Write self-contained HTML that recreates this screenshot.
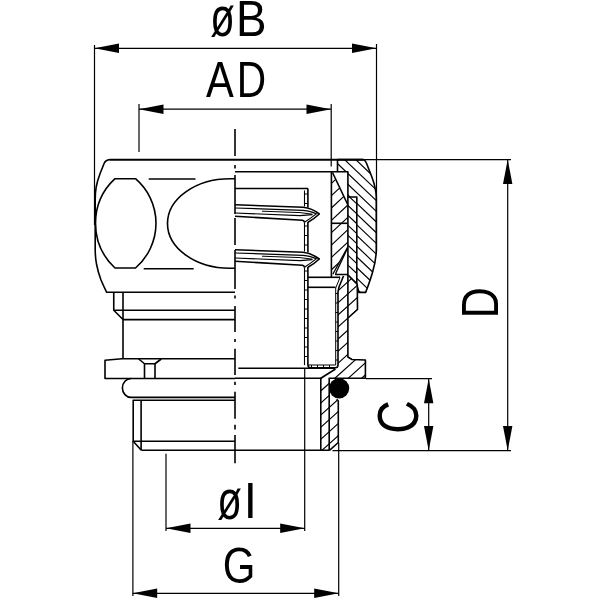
<!DOCTYPE html>
<html><head><meta charset="utf-8"><title>Drawing</title>
<style>
html,body{margin:0;padding:0;background:#fff;}
svg{display:block;will-change:transform;opacity:0.999;}
text{font-family:"Liberation Sans",sans-serif;}
</style></head><body>
<svg width="600" height="600" viewBox="0 0 600 600" stroke="#000" fill="none" stroke-linecap="butt" stroke-linejoin="round">
<rect x="0" y="0" width="600" height="600" fill="#fff" stroke="none"/>
<defs><clipPath id="cnut"><path d="M337.5,159.5 L363,159.5 L366.3,162.8 L371.5,176 L375.3,189 L376.3,197 L376.5,252 L375,262 L372.3,273.3 L367.7,287 L365.5,292.5 L358.8,292.5 L357.4,287.3 L356.8,284 L356.8,197 L347.9,197 L347.9,171.7 L337.5,171.7 Z"/></clipPath><clipPath id="cstrip"><path d="M347.9,197 L356.8,197 L356.8,284 L348.3,275.3 Z"/></clipPath><clipPath id="cfer"><path d="M331.4,172 L332.5,172.3 L347.7,204.5 L347.7,247.3 L332.8,274 L332.8,277 L331.4,277 Z"/></clipPath><clipPath id="cbody"><path d="M343.5,276 L348.3,275.3 L357.3,284.5 L357.6,309.5 L348,318 L348,357 L352,359.5 L365.4,360 L365.4,378.3 L329.2,378.3 L329.2,398 L336.7,399.5 L338.3,401 L338.3,442.5 L329.5,450.3 L320.8,450.3 L320.8,378.3 L335.5,369 L338,367 L338,292 L339,287 Z"/></clipPath></defs>
<line x1="94.5" y1="48.3" x2="376.5" y2="48.3" stroke-width="1.2" />
<polygon points="94.5,48.3 119.0,43.599999999999994 119.0,53.0" fill="#000" stroke="none"/>
<polygon points="376.5,48.3 352.0,53.0 352.0,43.599999999999994" fill="#000" stroke="none"/>
<line x1="94.5" y1="45" x2="94.5" y2="225" stroke-width="1.2" />
<line x1="376.5" y1="44" x2="376.5" y2="252" stroke-width="1.2" />
<line x1="139" y1="109.2" x2="331" y2="109.2" stroke-width="1.2" />
<polygon points="139,109.2 163.5,104.5 163.5,113.9" fill="#000" stroke="none"/>
<polygon points="331,109.2 306.5,113.9 306.5,104.5" fill="#000" stroke="none"/>
<line x1="139" y1="104" x2="139" y2="152" stroke-width="1.2" />
<line x1="331.2" y1="104" x2="331.2" y2="166.5" stroke-width="1.2" />
<line x1="507.7" y1="159.5" x2="507.7" y2="450.5" stroke-width="1.2" />
<polygon points="507.7,159.5 512.4,184.0 503.0,184.0" fill="#000" stroke="none"/>
<polygon points="507.7,450.5 503.0,426.0 512.4,426.0" fill="#000" stroke="none"/>
<line x1="363" y1="159.6" x2="511" y2="159.6" stroke-width="1.2" />
<line x1="332.5" y1="450.6" x2="511" y2="450.6" stroke-width="1.2" />
<line x1="428.7" y1="378.7" x2="428.7" y2="450.5" stroke-width="1.2" />
<polygon points="428.7,378.7 433.4,403.2 424.0,403.2" fill="#000" stroke="none"/>
<polygon points="428.7,450.5 424.0,426.0 433.4,426.0" fill="#000" stroke="none"/>
<line x1="366" y1="378.7" x2="432" y2="378.7" stroke-width="1.2" />
<line x1="166" y1="528.3" x2="304.7" y2="528.3" stroke-width="1.2" />
<polygon points="166,528.3 190.5,523.5999999999999 190.5,533.0" fill="#000" stroke="none"/>
<polygon points="304.7,528.3 280.2,533.0 280.2,523.5999999999999" fill="#000" stroke="none"/>
<line x1="166" y1="453.7" x2="166" y2="531" stroke-width="1.2" />
<line x1="304.7" y1="369" x2="304.7" y2="531" stroke-width="1.2" />
<line x1="132.7" y1="593.3" x2="338.7" y2="593.3" stroke-width="1.2" />
<polygon points="132.7,593.3 157.2,588.5999999999999 157.2,598.0" fill="#000" stroke="none"/>
<polygon points="338.7,593.3 314.2,598.0 314.2,588.5999999999999" fill="#000" stroke="none"/>
<line x1="132.9" y1="441" x2="132.9" y2="596" stroke-width="1.2" />
<line x1="338.7" y1="443" x2="338.7" y2="596" stroke-width="1.2" />
<line x1="235" y1="129" x2="235" y2="156" stroke-width="1.6" />
<line x1="235" y1="165" x2="235" y2="168.5" stroke-width="1.6" />
<line x1="235" y1="175" x2="235" y2="214" stroke-width="1.6" />
<line x1="235" y1="218" x2="235" y2="245" stroke-width="1.6" />
<line x1="235" y1="250" x2="235" y2="289" stroke-width="1.6" />
<line x1="235" y1="295.5" x2="235" y2="298.5" stroke-width="1.6" />
<line x1="235" y1="306" x2="235" y2="332" stroke-width="1.6" />
<line x1="235" y1="339" x2="235" y2="342" stroke-width="1.6" />
<line x1="235" y1="348.7" x2="235" y2="375" stroke-width="1.6" />
<line x1="235" y1="381.7" x2="235" y2="385" stroke-width="1.6" />
<line x1="235" y1="391.7" x2="235" y2="418.7" stroke-width="1.6" />
<line x1="235" y1="424.7" x2="235" y2="429.5" stroke-width="1.6" />
<line x1="235" y1="435" x2="235" y2="463.3" stroke-width="1.6" />
<line x1="110" y1="159.8" x2="363.3" y2="159.8" stroke-width="1.9" />
<path d="M110,159.6 Q105.5,160 104.2,163.3 L100,173.75 Q97.3,181 96.2,187 Q95.2,192 95.2,200 L95.2,250 Q95.3,258 96.5,264 Q98,272 101,280 Q104,287 106.7,292.3 L235,292.3" stroke-width="1.6" fill="none" />
<path d="M115,178.7 L135.5,178.7 A58.9,58.9 0 0 1 135.5,268 L115,268 A60.9,60.9 0 0 1 115,178.7 Z" stroke-width="1.6" fill="none" />
<line x1="148.7" y1="179" x2="195.5" y2="179" stroke-width="1.6" />
<line x1="143.7" y1="268.7" x2="193.7" y2="268.7" stroke-width="1.6" />
<path d="M235,178.8 L230,178.8 A62.5,44.7 0 0 0 230,268.2 L235,268.2" stroke-width="1.6" fill="none" />
<path d="M113.75,292.5 L113.75,310.3 L123,319.5" stroke-width="1.6" fill="none" />
<line x1="123" y1="292.5" x2="123" y2="358.5" stroke-width="1.6" />
<line x1="113.75" y1="310.3" x2="235" y2="310.3" stroke-width="1.6" />
<line x1="123" y1="319.6" x2="235" y2="319.6" stroke-width="1.6" />
<path d="M235,358.7 L122,358.7 L105,360.2 L105,378.5 L235,378.5" stroke-width="1.6" fill="none" />
<path d="M138.7,359 L144.5,363.75 L155,363.75 L161.2,359" stroke-width="1.6" fill="none" />
<line x1="144.5" y1="363.75" x2="144.5" y2="378.5" stroke-width="1.6" />
<line x1="155" y1="363.75" x2="155" y2="378.5" stroke-width="1.6" />
<path d="M131,378.5 A8.6,9.45 0 0 0 131,397.4 L235,397.4" stroke-width="1.6" fill="none" />
<path d="M235,400.2 L133.2,400.2 L133.2,441.2 L141.3,450.3" stroke-width="1.6" fill="none" />
<line x1="141.1" y1="400.2" x2="141.1" y2="449.8" stroke-width="1.6" />
<line x1="133.2" y1="441.2" x2="235" y2="441.2" stroke-width="1.6" />
<line x1="141.3" y1="450.3" x2="329.5" y2="450.3" stroke-width="1.6" />
<path d="M335.50,97.52 L378.50,138.46 M335.50,108.22 L378.50,149.16 M335.50,118.92 L378.50,159.86 M335.50,129.62 L378.50,170.56 M335.50,140.32 L378.50,181.26 M335.50,151.02 L378.50,191.96 M335.50,161.72 L378.50,202.66 M335.50,172.42 L378.50,213.36 M335.50,183.12 L378.50,224.06 M335.50,193.82 L378.50,234.76 M335.50,204.52 L378.50,245.46 M335.50,215.22 L378.50,256.16 M335.50,225.92 L378.50,266.86 M335.50,236.62 L378.50,277.56 M335.50,247.32 L378.50,288.26 M335.50,258.02 L378.50,298.96 M335.50,268.72 L378.50,309.66 M335.50,279.42 L378.50,320.36 M335.50,290.12 L378.50,331.06 M335.50,300.82 L378.50,341.76 M335.50,311.52 L378.50,352.46 M335.50,322.22 L378.50,363.16 M335.50,332.92 L378.50,373.86 M335.50,343.62 L378.50,384.56" stroke-width="1.15" fill="none" clip-path="url(#cnut)"/>
<path d="M345.90,163.78 L358.80,175.80 M345.90,173.73 L358.80,185.75 M345.90,183.68 L358.80,195.70 M345.90,193.63 L358.80,205.65 M345.90,203.58 L358.80,215.60 M345.90,213.53 L358.80,225.55 M345.90,223.48 L358.80,235.50 M345.90,233.43 L358.80,245.45 M345.90,243.38 L358.80,255.40 M345.90,253.33 L358.80,265.35 M345.90,263.28 L358.80,275.30 M345.90,273.23 L358.80,285.25 M345.90,283.18 L358.80,295.20 M345.90,293.13 L358.80,305.15 M345.90,303.08 L358.80,315.10" stroke-width="1.15" fill="none" clip-path="url(#cstrip)"/>
<path d="M337.5,159.6 L363,159.6 Q365.5,160.5 366.3,162.8 L371.5,176 Q374.3,183 375.3,189 Q376.2,193 376.3,197 L376.3,250 C376.2,258 374.5,266 372.3,273.3 C370.5,279 369,283.5 367.7,287 L365.6,292.4 L358.8,292.4 L357.6,287.3" stroke-width="1.6" fill="none" />
<path d="M337.5,159.5 L337.5,171.8 L347.9,171.8 L347.9,276" stroke-width="1.6" fill="none" />
<path d="M347.9,197 L356.8,197 L356.8,284" stroke-width="1.6" fill="none" />
<line x1="235" y1="171.8" x2="337.5" y2="171.8" stroke-width="1.6" />
<path d="M329.40,135.77 L349.70,116.83 M329.40,148.12 L349.70,129.18 M329.40,160.47 L349.70,141.53 M329.40,172.82 L349.70,153.88 M329.40,185.17 L349.70,166.23 M329.40,197.52 L349.70,178.58 M329.40,209.87 L349.70,190.93 M329.40,222.22 L349.70,203.28 M329.40,234.57 L349.70,215.63 M329.40,246.92 L349.70,227.98 M329.40,259.27 L349.70,240.33 M329.40,271.62 L349.70,252.68 M329.40,283.97 L349.70,265.03 M329.40,296.32 L349.70,277.38 M329.40,308.67 L349.70,289.73" stroke-width="1.15" fill="none" clip-path="url(#cfer)"/>
<path d="M331.4,172 L331.4,277" stroke-width="1.6" fill="none" />
<path d="M332.5,172.5 L347.7,204.5" stroke-width="1.6" fill="none" />
<line x1="331.4" y1="223.3" x2="347.7" y2="223.3" stroke-width="1.6" />
<path d="M347.6,247.3 L332.8,274.2" stroke-width="1.3" fill="none" />
<path d="M347.6,248 L336,272.8 L335.6,274.5 L347.7,274.5" stroke-width="1.3" fill="none" />
<path d="M318.80,211.19 L367.40,167.43 M318.80,223.29 L367.40,179.53 M318.80,235.39 L367.40,191.63 M318.80,247.49 L367.40,203.73 M318.80,259.59 L367.40,215.83 M318.80,271.69 L367.40,227.93 M318.80,283.79 L367.40,240.03 M318.80,295.89 L367.40,252.13 M318.80,307.99 L367.40,264.23 M318.80,320.09 L367.40,276.33 M318.80,332.19 L367.40,288.43 M318.80,344.29 L367.40,300.53 M318.80,356.39 L367.40,312.63 M318.80,368.49 L367.40,324.73 M318.80,380.59 L367.40,336.83 M318.80,392.69 L367.40,348.93 M318.80,404.79 L367.40,361.03 M318.80,416.89 L367.40,373.13 M318.80,428.99 L367.40,385.23 M318.80,441.09 L367.40,397.33 M318.80,453.19 L367.40,409.43 M318.80,465.29 L367.40,421.53 M318.80,477.39 L367.40,433.63 M318.80,489.49 L367.40,445.73 M318.80,501.59 L367.40,457.83" stroke-width="1.15" fill="none" clip-path="url(#cbody)"/>
<path d="M348.3,275.3 L357.3,284.5 L357.5,309.5 L348,318" stroke-width="1.6" fill="none" />
<path d="M347.9,276 L347.9,357 L352,359.5 L365.4,360 L365.4,378.3 L329.2,378.3 L329.2,450.3" stroke-width="1.6" fill="none" />
<path d="M336.7,399.3 L338.3,401 L338.3,442.5 L329.5,450.3" stroke-width="1.6" fill="none" />
<path d="M320.8,450.3 L320.8,378.3 L335.5,369" stroke-width="1.6" fill="none" />
<line x1="235" y1="378.2" x2="320.8" y2="378.2" stroke-width="1.6" />
<circle cx="339.1" cy="388.3" r="10.1" fill="#000" stroke="none"/>
<line x1="235" y1="188.5" x2="308" y2="188.5" stroke-width="1.6" />
<line x1="307.9" y1="188.5" x2="307.9" y2="207.5" stroke-width="1.6" />
<line x1="307.9" y1="222" x2="307.9" y2="252.5" stroke-width="1.6" />
<line x1="307.9" y1="267" x2="307.9" y2="365" stroke-width="1.6" />
<line x1="304.5" y1="190.5" x2="304.5" y2="206.5" stroke-width="1.1" />
<line x1="306.2" y1="193.5" x2="306.2" y2="206.5" stroke-width="3" stroke-dasharray="1 8.5"/>
<line x1="304.5" y1="222.5" x2="304.5" y2="251.5" stroke-width="1.1" />
<line x1="306.2" y1="225.5" x2="306.2" y2="251.5" stroke-width="3" stroke-dasharray="1 8.5"/>
<line x1="304.5" y1="267.5" x2="304.5" y2="365" stroke-width="1.1" />
<line x1="306.2" y1="270.5" x2="306.2" y2="365" stroke-width="3" stroke-dasharray="1 8.5"/>
<path d="M308,365 Q308,367.7 310.5,367.7 L335.3,367.7 Q338,367.7 338,365 L338,292 L339,287 L343.5,276" stroke-width="1.6" fill="none" />
<path d="M304.3,365 L304.3,365.2 M307.8,365 L335.7,365 L335.7,288 L340,277.5" stroke-width="1.0" fill="none" />
<line x1="336.9" y1="293" x2="336.9" y2="364" stroke-width="2.6" stroke-dasharray="1 8.5"/>
<line x1="311" y1="366.3" x2="334" y2="366.3" stroke-width="2.6" stroke-dasharray="1 5"/>
<line x1="308" y1="277.3" x2="340" y2="277.3" stroke-width="1.6" />
<line x1="308" y1="287.3" x2="335.5" y2="287.3" stroke-width="1.6" />
<line x1="238.3" y1="368.3" x2="335" y2="368.3" stroke-width="1.6" />
<path d="M235,204.7 L303,207.3 Q312,208.3 319.3,214 Q314,219 308,222.3" stroke-width="1.6" fill="none" />
<path d="M235,208 L303,210.3 Q311,211 316.3,213.9 Q311,218 304.5,222.3" stroke-width="1.2" fill="none" />
<path d="M262,211.2 L300,212.6 L312.5,214.2" stroke-width="1.0" fill="none" />
<path d="M235,213 L300,215.6 L312.5,214.6" stroke-width="1.2" fill="none" />
<path d="M235,216.3 L302.5,220.3 Q304.4,220.8 304.4,222.5" stroke-width="1.6" fill="none" />
<path d="M235,249.7 L303,252.3 Q312,253.3 319.3,259 Q314,264 308,267.3" stroke-width="1.6" fill="none" />
<path d="M235,253 L303,255.3 Q311,256 316.3,258.9 Q311,263 304.5,267.3" stroke-width="1.2" fill="none" />
<path d="M262,256.2 L300,257.6 L312.5,259.2" stroke-width="1.0" fill="none" />
<path d="M235,258 L300,260.6 L312.5,259.6" stroke-width="1.2" fill="none" />
<path d="M235,261.3 L302.5,265.3 Q304.4,265.8 304.4,267.5" stroke-width="1.6" fill="none" />
<text stroke="none" fill="#000"><tspan x="210.30" y="36.40" font-size="55.22" textLength="24.44" lengthAdjust="spacingAndGlyphs">ø</tspan><tspan x="236.04" y="35.50" font-size="50.00" textLength="30.54" lengthAdjust="spacingAndGlyphs">B</tspan></text>
<text stroke="none" fill="#000"><tspan x="205.99" y="97.00" font-size="50.36" textLength="27.79" lengthAdjust="spacingAndGlyphs">A</tspan><tspan x="236.75" y="97.00" font-size="50.00" textLength="29.37" lengthAdjust="spacingAndGlyphs">D</tspan></text>
<text stroke="none" fill="#000"><tspan x="217.30" y="518.90" font-size="54.87" textLength="24.55" lengthAdjust="spacingAndGlyphs">ø</tspan><tspan x="243.74" y="518.00" font-size="50.72" textLength="13.17" lengthAdjust="spacingAndGlyphs">I</tspan></text>
<text stroke="none" fill="#000"><tspan x="222.70" y="582.50" font-size="50.00" textLength="32.66" lengthAdjust="spacingAndGlyphs">G</tspan></text>
<text transform="rotate(-90)" stroke="none" fill="#000"><tspan x="-318.16" y="498.00" font-size="51.16" textLength="31.19" lengthAdjust="spacingAndGlyphs">D</tspan></text>
<text transform="rotate(-90)" stroke="none" fill="#000"><tspan x="-433.82" y="418.18" font-size="57.04" textLength="33.52" lengthAdjust="spacingAndGlyphs">C</tspan></text>
</svg>
</body></html>
